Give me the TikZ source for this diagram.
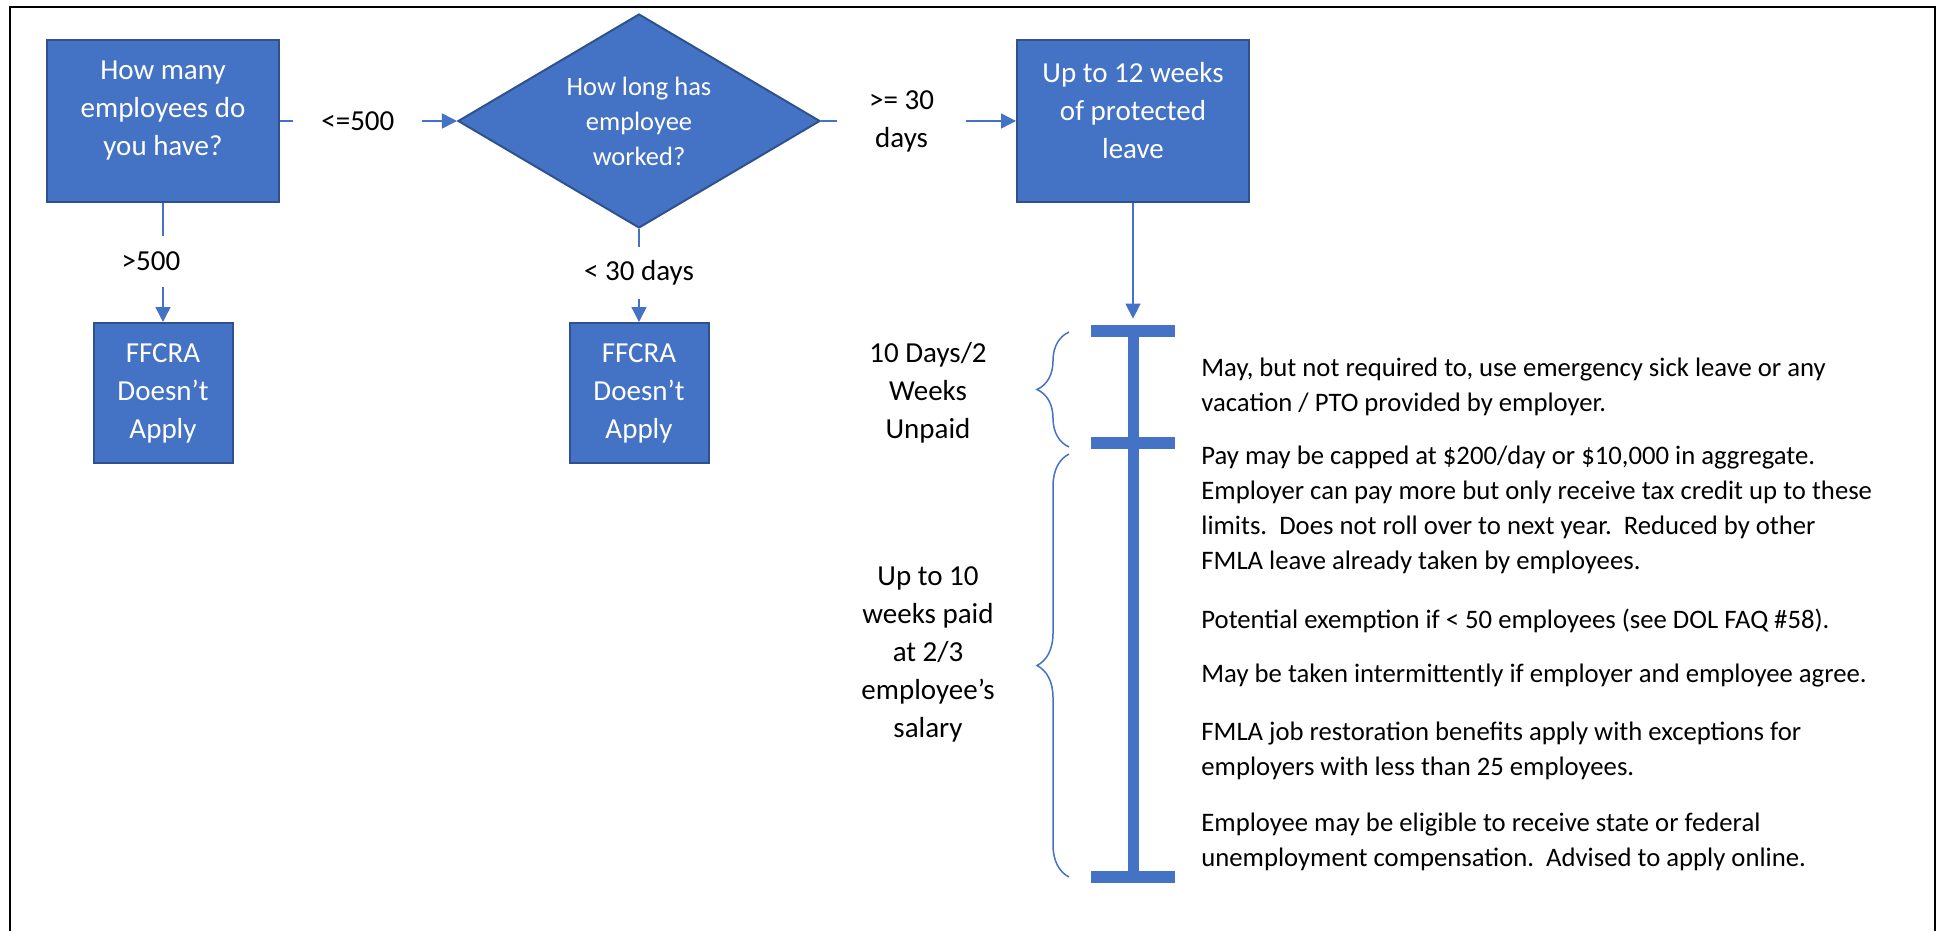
\documentclass[tikz,border=0pt]{standalone}
\usepackage{fontspec}
\setmainfont{Carlito}
\usepackage{tikz}
\usetikzlibrary{arrows, arrows.meta, shapes.geometric, decorations.pathreplacing}
\definecolor{boxblue}{HTML}{4472C4}
\definecolor{edgeblue}{HTML}{2F528F}

\begin{document}
\begin{tikzpicture}[x=0.5pt, y=-0.5pt]
\tikzstyle{question}=[rectangle, draw=edgeblue, line width=1pt, fill=boxblue, text=white, align=center, minimum width=116pt, minimum height=81pt, inner sep=0pt, font=\fontsize{14.5}{19}\selectfont]
\tikzstyle{outcome}=[question, minimum width=69.5pt, minimum height=70pt]
\tikzstyle{decision}=[diamond, aspect=1.69, draw=edgeblue, line width=1pt, fill=boxblue, text=white, align=center, minimum width=181pt, minimum height=107pt, inner sep=0pt, font=\fontsize{13.25}{17.5}\selectfont]
\tikzstyle{choice}=[fill=white, align=center, inner sep=0pt, font=\fontsize{14.5}{19}\selectfont]
\tikzstyle{flow}=[draw=boxblue, line width=0.75pt, -{Triangle[length=7.5pt, width=7.5pt]}]
\tikzstyle{bar}=[rectangle, fill=boxblue, minimum width=42pt, minimum height=6pt, inner sep=0pt]
\tikzstyle{span}=[draw=boxblue, line width=0.75pt, decorate, decoration={brace, amplitude=16pt}]
\tikzstyle{period}=[align=center, font=\fontsize{14.5}{19}\selectfont]
\tikzstyle{note}=[anchor=west, align=left, inner sep=0pt, font=\fontsize{13.35}{17.5}\selectfont]

\useasboundingbox (0,0) rectangle (1942,931);
\draw[line width=1pt] (10,931) -- (10,7) -- (1935,7) -- (1935,931);

\node[question, text depth=13pt] (Q1) at (163,121) {How many\\employees do\\you have?};
\node[decision] (Q2) at (639,121) {How long has\\employee\\worked?};
\node[question, text depth=11pt] (L) at (1133,121) {Up to 12 weeks\\of protected\\leave};
\node[outcome] (N1) at (163,393) {FFCRA\\Doesn't\\Apply};
\node[outcome] (N2) at (639,393) {FFCRA\\Doesn't\\Apply};

\path (Q1) edge[flow] node[choice, pos=0.44, minimum width=64.5pt, minimum height=20pt] {<=500} (Q2)
      (Q1) edge[flow] node[choice, pos=0.49, xshift=-6pt, minimum width=40pt, minimum height=25.5pt] {>500} (N1)
      (Q2) edge[flow] node[choice, pos=0.413, minimum width=64.5pt] {>= 30\\days} (L)
      (Q2) edge[flow] node[choice, pos=0.47, minimum width=60pt, minimum height=26pt] {< 30 days} (N2);

% timeline
\node[bar] (B1) at (1133,331) {};
\node[bar] (B2) at (1133,442.5) {};
\node[bar] (B3) at (1133,877) {};
\draw[boxblue, line width=5.5pt] (B1.center) -- (B3.center);
\draw[flow, shorten >=3pt] (L) -- (B1);

\draw[span] (1069,447) -- (1069,332);
\draw[span] (1069,877) -- (1069,454);
\node[period] (P1) at (928,393) {10 Days/2\\Weeks\\Unpaid};
\node[period] (P2) at (928,654) {Up to 10\\weeks paid\\at 2/3\\employee's\\salary};

\node[note] (T1) at (1201,386.5) {May, but not required to, use emergency sick leave or any\\vacation / PTO provided by employer.};
\node[note] (T2) at (1201,510) {Pay may be capped at \$200/day or \$10,000 in aggregate.\\Employer can pay more but only receive tax credit up to these\\limits.\ \ Does not roll over to next year.\ \ Reduced by other\\FMLA leave already taken by employees.};
\node[note] (T3) at (1201,621) {Potential exemption if < 50 employees (see DOL FAQ \#58).};
\node[note] (T4) at (1201,676) {May be taken intermittently if employer and employee agree.};
\node[note] (T5) at (1201,750.5) {FMLA job restoration benefits apply with exceptions for\\employers with less than 25 employees.};
\node[note] (T6) at (1201,842) {Employee may be eligible to receive state or federal\\unemployment compensation.\ \ Advised to apply online.};

\end{tikzpicture}
\end{document}
